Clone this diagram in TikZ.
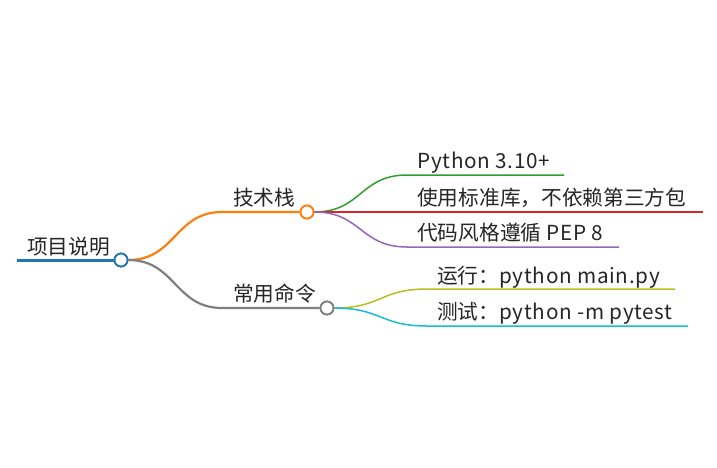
\documentclass[tikz,border=0pt]{standalone}
\usepackage{fontspec}
\setmainfont{Noto Sans CJK SC}
\newfontfamily\lat[LetterSpace=3.4]{Noto Sans CJK SC}
\definecolor{cblue}{HTML}{1F77B4}
\definecolor{corange}{HTML}{FF7F0E}
\definecolor{cgreen}{HTML}{2CA02C}
\definecolor{cred}{HTML}{D62728}
\definecolor{cpurple}{HTML}{9467BD}
\definecolor{cgray}{HTML}{7F7F7F}
\definecolor{colive}{HTML}{BCBD22}
\definecolor{ccyan}{HTML}{17BECF}
\begin{document}
\begin{tikzpicture}[x=1pt,y=-1pt,
  dot/.style={circle,fill=white,line width=1.8pt,minimum size=13pt,inner sep=0pt},
  lbl/.style={anchor=base west,inner sep=0pt,font=\fontsize{20.7}{24}\selectfont,text=black!85},
  l1/.style={line width=2.2pt},
  l2/.style={line width=1.5pt}]
\useasboundingbox[fill=white] (0,0) rectangle (717,467);
% coordinates
\coordinate (r0) at (17,260);
\coordinate (a0) at (222,212);
\coordinate (b0) at (222,308);
\coordinate (a1s) at (407,175); \coordinate (a1e) at (564,175);
\coordinate (a2e) at (703,212);
\coordinate (a3s) at (407,247); \coordinate (a3e) at (619,247);
\coordinate (b1s) at (427,289); \coordinate (b1e) at (675,289);
\coordinate (b2s) at (427,326); \coordinate (b2e) at (688,326);
\node[dot,draw=cblue] (root) at (121,260) {};
\node[dot,draw=corange] (a) at (307,212) {};
\node[dot,draw=cgray] (b) at (327,308) {};
% texts
\node[lbl] (troot) at (27,254) {项目说明};
\node[lbl] (ta) at (233,205) {技术栈};
\node[lbl] (tb) at (233,301) {常用命令};
\node[lbl] (ta1) at (417,168) {\lat Python 3.10+};
\node[lbl] (ta2) at (417,205) {使用标准库，不依赖第三方包};
\node[lbl] (ta3) at (417,240) {代码风格遵循{\lat\ PEP 8}};
\node[lbl] (tb1) at (437,283) {运行：{\lat python main.py}};
\node[lbl] (tb2) at (437,319) {测试：{\lat python -m pytest}};
% connectors
\draw[cblue,line width=3pt] (r0) -- (root.west);
\draw[corange,l1] (root.east) .. controls +(47,0) and +(-47,0) .. (a0) -- (a.west);
\draw[cgray,l1] (root.east) .. controls +(47,0) and +(-47,0) .. (b0) -- (b.west);
\draw[cgreen,l2] (a.east) .. controls +(47,0) and +(-47,0) .. (a1s) -- (a1e);
\draw[cred,l2] (a.east) -- (a2e);
\draw[cpurple,l2] (a.east) .. controls +(47,0) and +(-47,0) .. (a3s) -- (a3e);
\draw[colive,l2] (b.east) .. controls +(47,0) and +(-47,0) .. (b1s) -- (b1e);
\draw[ccyan,l2] (b.east) .. controls +(47,0) and +(-47,0) .. (b2s) -- (b2e);
% redraw dots on top
\node[dot,draw=cblue] at (root) {};
\node[dot,draw=corange] at (a) {};
\node[dot,draw=cgray] at (b) {};
\end{tikzpicture}
\end{document}
